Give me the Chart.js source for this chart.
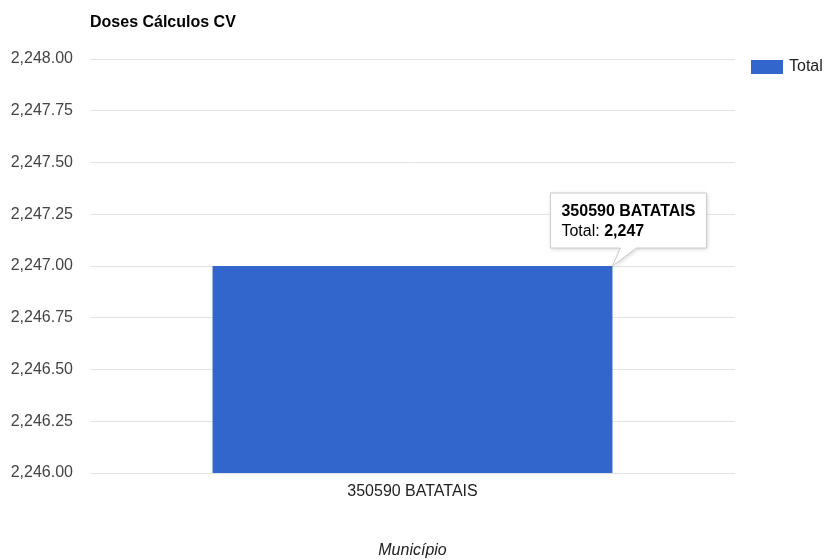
<!DOCTYPE html>
<html>
<head>
<meta charset="utf-8">
<script src="https://cdn.jsdelivr.net/npm/chart.js@4.4.1/dist/chart.umd.min.js"></script>
<style>
  html, body { margin: 0; padding: 0; background: #fff; }
  #wrap { width: 824px; height: 560px; position: relative; }
</style>
</head>
<body>
<div id="wrap"><canvas id="chart" width="824" height="560"></canvas></div>
<script>
const categories = ['350590 BATATAIS'];
const seriesName = 'Total';
const totals = [2247];
const yTicks = [2246, 2246.25, 2246.5, 2246.75, 2247, 2247.25, 2247.5, 2247.75, 2248];

const FONT = 'Arial, "Liberation Sans", sans-serif';
const BLUE = '#3366cc';

const fmt2 = v => v.toLocaleString('en-US', { minimumFractionDigits: 2, maximumFractionDigits: 2 });
const fmt0 = v => v.toLocaleString('en-US');

// title, legend and the always-on tooltip
const extras = {
    id: 'extras',
    afterDraw(chart) {
        const ctx = chart.ctx;
        const area = chart.chartArea;
        ctx.save();

        ctx.fillStyle = '#000';
        ctx.font = 'bold 16px ' + FONT;
        ctx.textBaseline = 'middle';
        ctx.textAlign = 'left';
        ctx.fillText('Doses Cálculos CV', area.left, 23);

        // legend
        ctx.fillStyle = BLUE;
        ctx.fillRect(751, 60, 32, 14);
        ctx.fillStyle = '#222';
        ctx.font = '16px ' + FONT;
        ctx.fillText(seriesName, 789, 67);

        // tooltip attached to the bar
        const bar = chart.getDatasetMeta(0).data[0];
        const ax = bar.x + bar.width / 2;
        const ay = bar.y;
        const bx = ax - 62, bw = 156, bh = 55;
        const by = ay - 18 - bh;

        ctx.shadowColor = 'rgba(0,0,0,0.18)';
        ctx.shadowBlur = 4;
        ctx.shadowOffsetX = 1;
        ctx.shadowOffsetY = 1;
        ctx.beginPath();
        ctx.moveTo(bx, by);
        ctx.lineTo(bx + bw, by);
        ctx.lineTo(bx + bw, by + bh);
        ctx.lineTo(ax + 24, by + bh);
        ctx.lineTo(ax, ay);
        ctx.lineTo(ax + 8, by + bh);
        ctx.lineTo(bx, by + bh);
        ctx.closePath();
        ctx.fillStyle = '#fff';
        ctx.fill();
        ctx.shadowColor = 'transparent';
        ctx.strokeStyle = '#cccccc';
        ctx.lineWidth = 1;
        ctx.stroke();

        ctx.fillStyle = '#000';
        ctx.font = 'bold 16px ' + FONT;
        ctx.fillText(categories[0], bx + 11, by + 19);
        ctx.font = '16px ' + FONT;
        const lbl = seriesName + ': ';
        ctx.fillText(lbl, bx + 11, by + 39);
        const w = ctx.measureText(lbl).width;
        ctx.font = 'bold 16px ' + FONT;
        ctx.fillText(fmt0(totals[0]), bx + 11 + w, by + 39);

        ctx.restore();
    }
};

new Chart(document.getElementById('chart'), {
    type: 'bar',
    data: {
        labels: categories,
        datasets: [{
            label: seriesName,
            data: totals,
            backgroundColor: BLUE,
            borderWidth: 0,
            barPercentage: 0.62,
            categoryPercentage: 1
        }]
    },
    options: {
        responsive: false,
        animation: false,
        layout: { padding: { top: 59, right: 89, left: 0, bottom: 0 } },
        plugins: {
            legend: { display: false },
            tooltip: { enabled: false },
            title: { display: false }
        },
        scales: {
            x: {
                grid: { display: false, drawTicks: false },
                border: { display: false },
                ticks: { color: '#222', font: { family: FONT, size: 16 }, padding: 9 },
                title: {
                    display: true,
                    text: 'Município',
                    color: '#222',
                    font: { family: FONT, size: 16, style: 'italic' },
                    padding: { top: 0, bottom: 0 }
                },
                afterFit(scale) { scale.height = 87; }
            },
            y: {
                min: yTicks[0],
                max: yTicks[yTicks.length - 1],
                afterBuildTicks(scale) { scale.ticks = yTicks.map(v => ({ value: v })); },
                grid: { color: '#e3e3e3', drawTicks: false, lineWidth: 1 },
                border: { display: false },
                ticks: {
                    color: '#444',
                    font: { family: FONT, size: 16 },
                    padding: 17,
                    callback: v => fmt2(v)
                },
                afterFit(scale) { scale.width = 90; }
            }
        }
    },
    plugins: [extras]
});
</script>
</body>
</html>
